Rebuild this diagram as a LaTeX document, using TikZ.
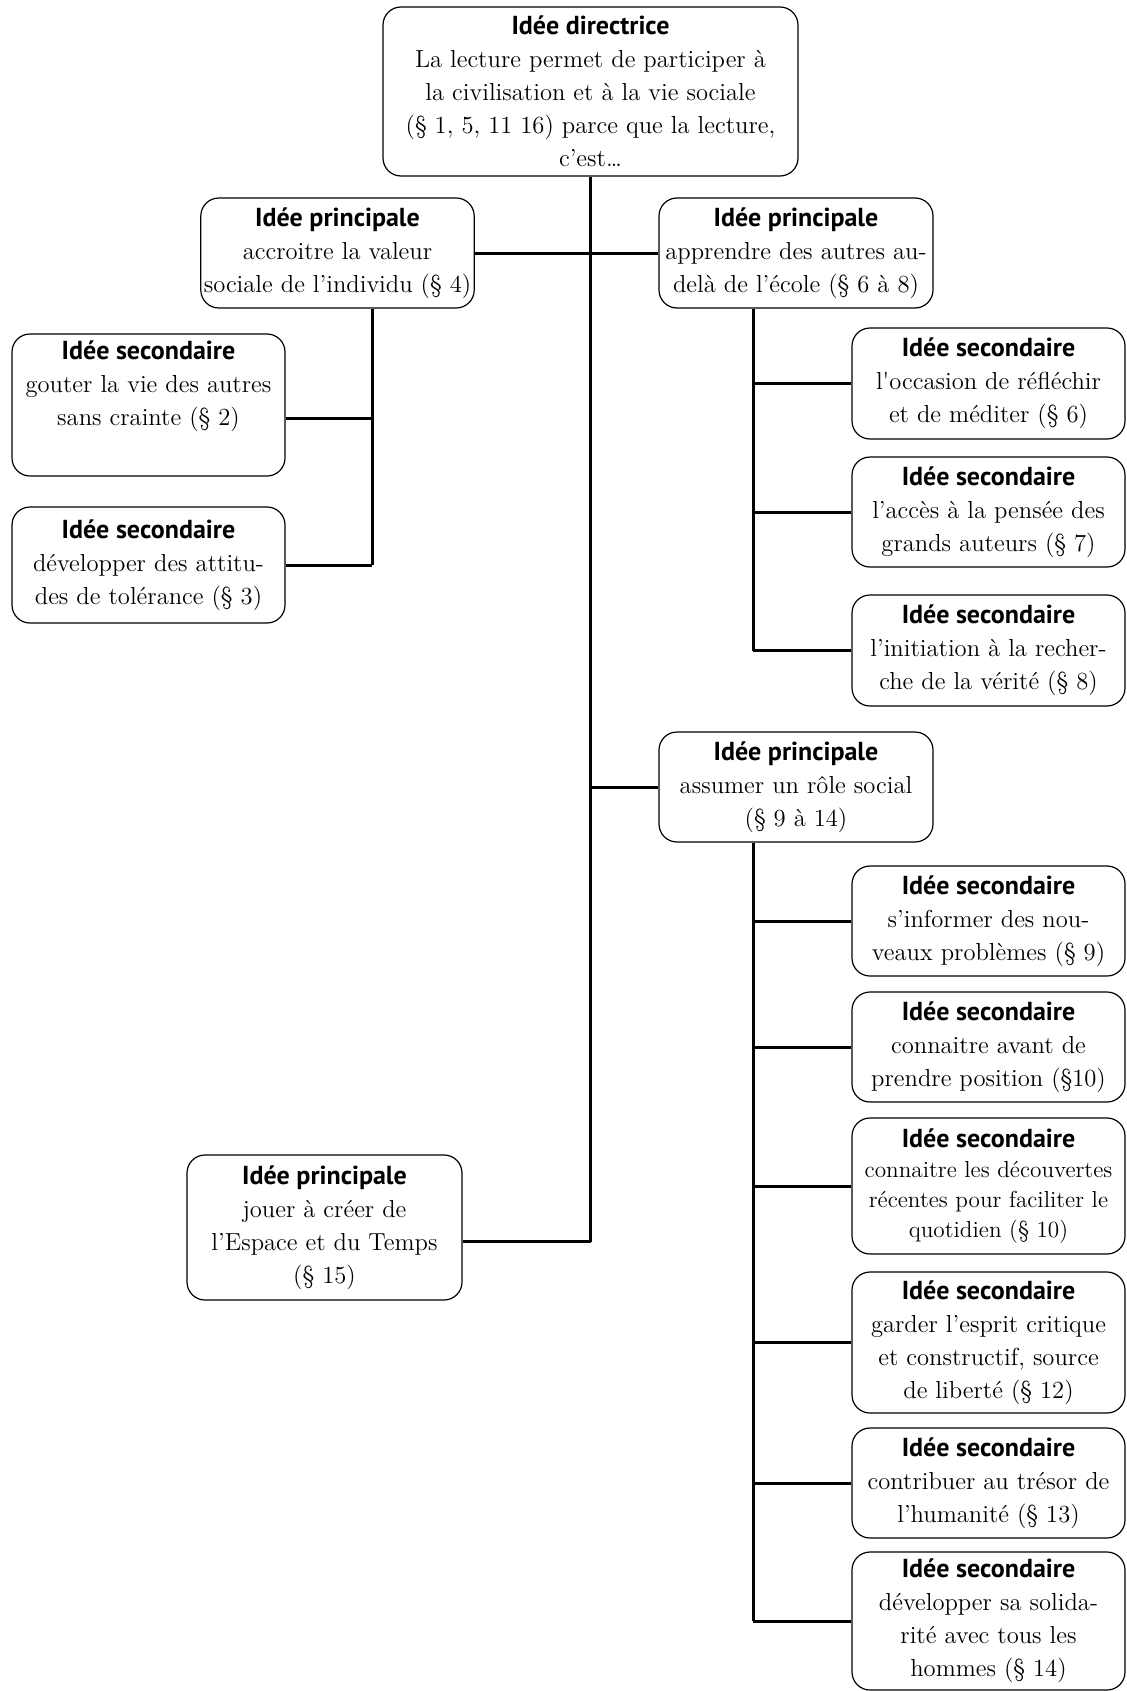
\documentclass[tikz,border=0pt]{standalone}
\usepackage{fontspec}
\newfontfamily\headfont{PT Sans}
\usetikzlibrary{positioning}
\newcommand\entete[1]{{\headfont\bfseries\fontsize{13}{16.5}\selectfont #1}}

\begin{document}
\begin{tikzpicture}[x=0.5pt,y=-0.5pt,
    idee/.style={draw,line width=0.6pt,rounded corners=9pt,align=center,
      inner sep=1.5pt,font=\fontsize{12.3}{16.5}\selectfont},
    lien/.style={line width=1.5pt}]
    \useasboundingbox (0,0) rectangle (1126,1691);

    % idee directrice
    \node[idee,minimum width=207.5pt,minimum height=84.5pt] (dir) at (590.5,91.5)
      {\entete{Idée directrice}\\ La lecture permet de participer à\\ la civilisation et à la vie sociale\\ (§ 1, 5, 11 16) parce que la lecture,\\ c’est…};

    % idees principales
    \node[idee,minimum width=135.5pt,minimum height=55pt] (p1) at (337.5,253)
      {\entete{Idée principale}\\ accroitre la valeur\\ sociale de l’individu (§ 4)};
    \node[idee,minimum width=137pt,minimum height=55pt] (p2) at (796,253)
      {\entete{Idée principale}\\ apprendre des autres au-\\ delà de l’école (§ 6 à 8)};
    \node[idee,minimum width=137pt,minimum height=55pt] (p3) at (796,787)
      {\entete{Idée principale}\\ assumer un rôle social\\ (§ 9 à 14)};
    \node[idee,minimum width=137.5pt,minimum height=72.5pt] (p4) at (324.5,1227.5)
      {\entete{Idée principale}\\ jouer à créer de\\ l’Espace et du Temps\\ (§ 15)};

    % idees secondaires, gauche
    \node[idee,minimum width=136.5pt,minimum height=71pt] (s1) at (148.5,405)
      {\entete{Idée secondaire}\\ gouter la vie des autres\\ sans crainte (§ 2)\\ \strut};
    \node[idee,minimum width=136.5pt,minimum height=58pt] (s2) at (148.5,565)
      {\entete{Idée secondaire}\\ développer des attitu-\\ des de tolérance (§ 3)};

    % idees secondaires, droite
    \node[idee,minimum width=136.5pt,minimum height=55.5pt] (sa) at (988.5,383.5)
      {\entete{Idée secondaire}\\ l\textquotesingle occasion de réfléchir\\ et de méditer (§ 6)};
    \node[idee,minimum width=136.5pt,minimum height=55pt] (sb) at (988.5,512)
      {\entete{Idée secondaire}\\ l’accès à la pensée des\\ grands auteurs (§ 7)};
    \node[idee,minimum width=136.5pt,minimum height=55.5pt] (sc) at (988.5,650.5)
      {\entete{Idée secondaire}\\ l’initiation à la recher-\\ che de la vérité (§ 8)};
    \node[idee,minimum width=136.5pt,minimum height=55pt] (sd) at (988.5,921)
      {\entete{Idée secondaire}\\ s’informer des nou-\\ veaux problèmes (§ 9)};
    \node[idee,minimum width=136.5pt,minimum height=55pt] (se) at (988.5,1047)
      {\entete{Idée secondaire}\\ connaitre avant de\\ prendre position (§10)};
    \node[idee,minimum width=136.5pt,minimum height=68pt,font=\fontsize{11.6}{15}\selectfont] (sf) at (988.5,1186)
      {\entete{Idée secondaire}\\ connaitre les découvertes\\ récentes pour faciliter le\\ quotidien (§ 10)};
    \node[idee,minimum width=136.5pt,minimum height=70.5pt] (sg) at (988.5,1342.5)
      {\entete{Idée secondaire}\\ garder l’esprit critique\\ et constructif, source\\ de liberté (§ 12)};
    \node[idee,minimum width=136.5pt,minimum height=55pt] (sh) at (988.5,1483)
      {\entete{Idée secondaire}\\ contribuer au trésor de\\ l’humanité (§ 13)};
    \node[idee,minimum width=136.5pt,minimum height=69pt] (si) at (988.5,1621)
      {\entete{Idée secondaire}\\ développer sa solida-\\ rité avec tous les\\ hommes (§ 14)};

    % liens
    \coordinate (b1) at (372,0);
    \coordinate (b2) at (753,0);
    \coordinate (j1) at ([yshift=-6.5pt]s1.east);
    \coordinate (j4) at ([yshift=-7pt]p4.east);
    \draw[lien] (dir.south) -- (dir.south |- j4);
    \draw[lien] (p1.east) -- (p2.west);
    \draw[lien] (p3.west) -- (p3.west -| dir.south);
    \draw[lien] (j4) -- (j4 -| dir.south);
    \draw[lien] (p1.south -| b1) -- (b1 |- s2.east);
    \draw[lien] (j1) -- (j1 -| b1);
    \draw[lien] (s2.east) -- (s2.east -| b1);
    \draw[lien] (p2.south -| b2) -- (b2 |- sc.west);
    \foreach \s in {sa,sb,sc}
      \draw[lien] (\s.west) -- (\s.west -| b2);
    \draw[lien] (p3.south -| b2) -- (b2 |- si.west);
    \foreach \s in {sd,se,sf,sg,sh,si}
      \draw[lien] (\s.west) -- (\s.west -| b2);
  \end{tikzpicture}
\end{document}
